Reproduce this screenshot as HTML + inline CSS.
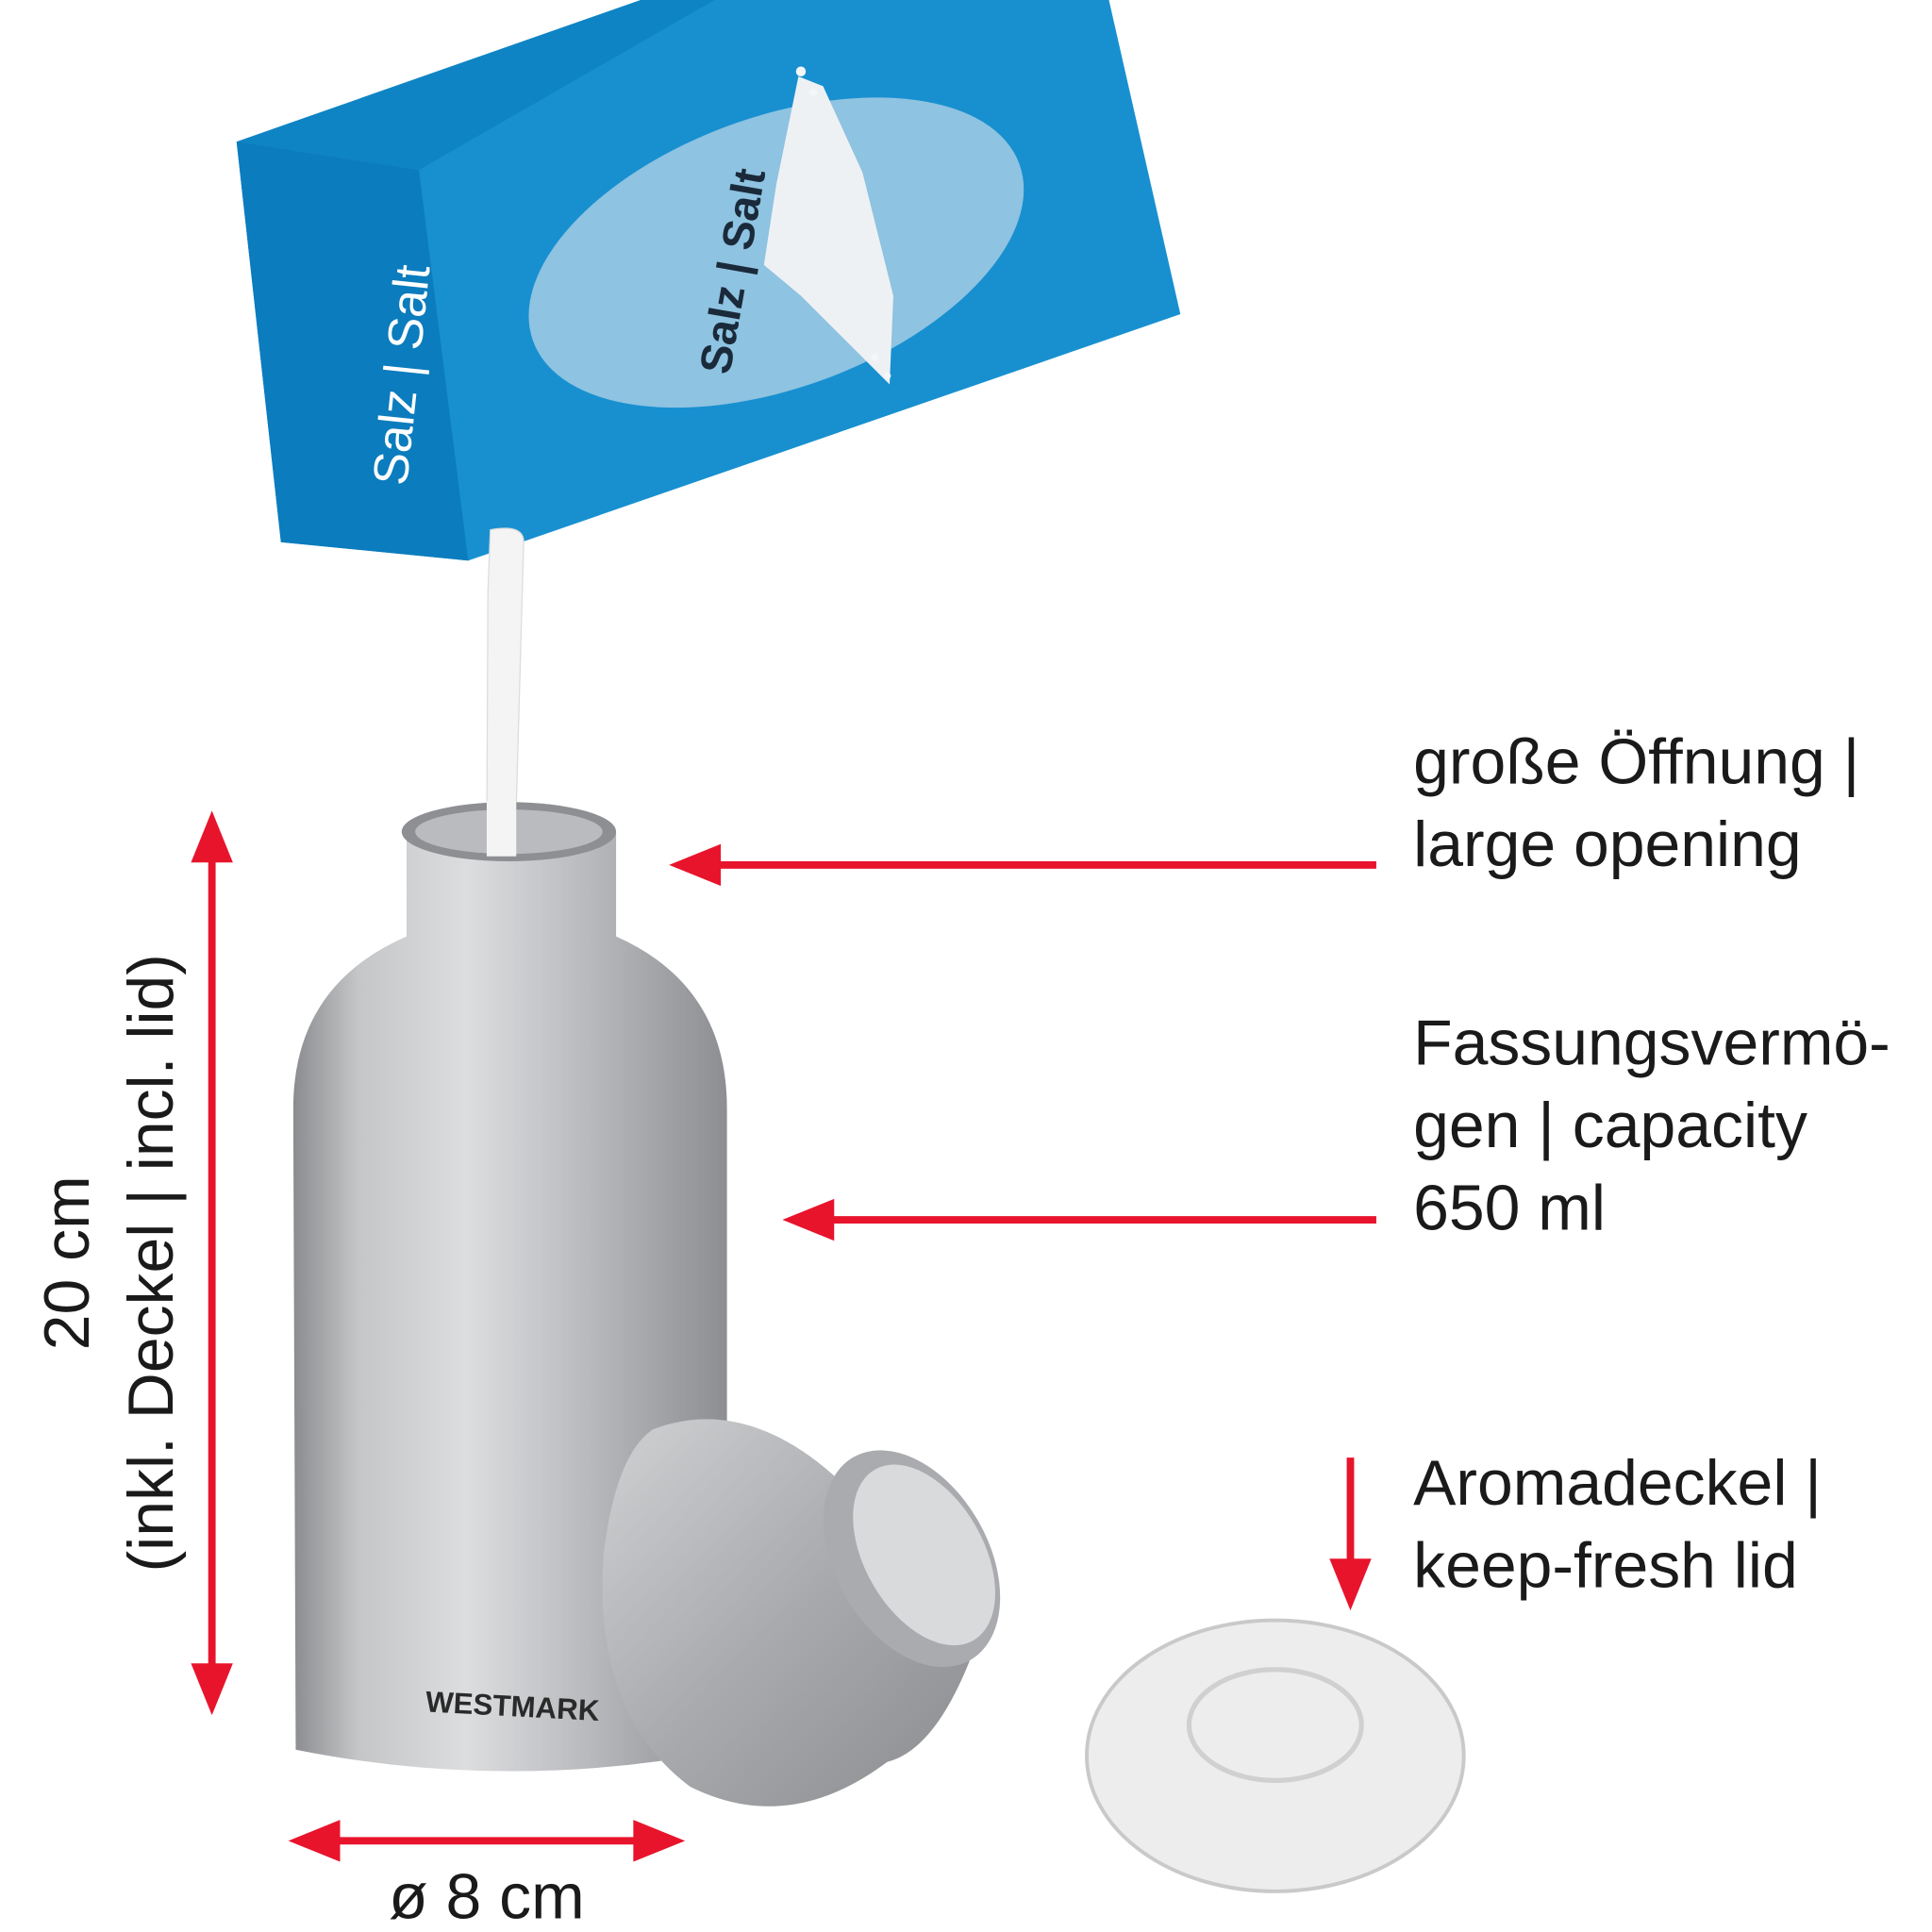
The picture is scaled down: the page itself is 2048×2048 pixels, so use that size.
<!DOCTYPE html>
<html><head><meta charset="utf-8"><style>
html,body{margin:0;padding:0;background:#fff;}
svg{display:block;}
text{font-family:"Liberation Sans","DejaVu Sans",sans-serif;}
</style></head><body>
<svg width="2048" height="2048" viewBox="0 0 1568 1568" xmlns="http://www.w3.org/2000/svg">
<defs>
<linearGradient id="metal" x1="0" x2="1" y1="0" y2="0">
<stop offset="0" stop-color="#8a8c8f"/><stop offset="0.15" stop-color="#c4c6c8"/><stop offset="0.4" stop-color="#dcdddf"/><stop offset="0.7" stop-color="#b5b7ba"/><stop offset="1" stop-color="#8c8e91"/>
</linearGradient>
<linearGradient id="lidg" x1="0" x2="1" y1="0" y2="1">
<stop offset="0" stop-color="#cfd1d3"/><stop offset="0.5" stop-color="#a8aaad"/><stop offset="1" stop-color="#8a8c8f"/>
</linearGradient>
</defs>
<!-- box -->
<polygon points="192,115 520,0 900,0 958,255 380,455 228,440" fill="#1890d0"/>
<polygon points="192,115 340,138 380,455 228,440" fill="#0b7cbd"/>
<polygon points="192,115 520,0 580,0 340,138" fill="#0f84c4"/>
<ellipse cx="630" cy="205" rx="210" ry="110" transform="rotate(-20 630 205)" fill="#8ec3e1"/>
<polygon points="648,62 668,70 700,140 725,240 722,312 700,290 650,240 620,215 630,150" fill="#eef1f4"/>
<g fill="#f4f6f8"><circle cx="650" cy="58" r="4"/><circle cx="660" cy="75" r="3"/><circle cx="720" cy="305" r="3"/><circle cx="710" cy="290" r="3"/></g>
<text x="0" y="0" transform="translate(330,395) rotate(-84)" fill="#fff" font-size="40">Salz | Salt</text>
<text x="0" y="0" transform="translate(592,305) rotate(-80)" fill="#1a2a3a" font-size="36" font-weight="bold">Salz | Salt</text>
<!-- stream -->
<path d="M398,430 Q425,425 425,440 L418,690 L395,690 L396,480 Z" fill="#f4f4f4" stroke="#ddd"/>
<!-- bottle -->
<path d="M330,675 L500,675 L500,760 Q590,800 590,900 L590,1420 Q415,1455 240,1420 L238,900 Q238,800 330,760 Z" fill="url(#metal)"/>
<ellipse cx="413" cy="675" rx="87" ry="24" fill="#8d8f92"/>
<ellipse cx="413" cy="675" rx="76" ry="18" fill="#b9bbbe"/>
<rect x="395" y="650" width="24" height="45" fill="#f4f4f4"/>
<text x="345" y="1392" font-size="24" font-weight="bold" fill="#2a2a2a" transform="rotate(3 400 1390)">WESTMARK</text>
<!-- lid -->
<path d="M530,1160 Q610,1130 690,1210 L790,1340 Q760,1420 720,1430 Q640,1490 560,1450 Q480,1390 490,1260 Q500,1180 530,1160 Z" fill="url(#lidg)"/>
<ellipse cx="740" cy="1265" rx="62" ry="95" transform="rotate(-30 740 1265)" fill="#a9abae"/>
<ellipse cx="750" cy="1262" rx="48" ry="80" transform="rotate(-30 750 1262)" fill="#d9dadc"/>
<!-- disc -->
<ellipse cx="1035" cy="1425" rx="153" ry="110" fill="#ededee" stroke="#c9c9c9" stroke-width="3"/>
<ellipse cx="1035" cy="1400" rx="70" ry="45" fill="none" stroke="#d0d0d0" stroke-width="4"/>
<!-- arrows -->
<g fill="#e8142c" stroke="#e8142c">
<line x1="172" y1="690" x2="172" y2="1360" stroke-width="6"/>
<polygon points="172,658 155,700 189,700" stroke="none"/>
<polygon points="172,1392 155,1350 189,1350" stroke="none"/>
<line x1="580" y1="702" x2="1117" y2="702" stroke-width="6"/>
<polygon points="543,702 585,685 585,719" stroke="none"/>
<line x1="670" y1="990" x2="1117" y2="990" stroke-width="6"/>
<polygon points="635,990 677,973 677,1007" stroke="none"/>
<line x1="1096" y1="1183" x2="1096" y2="1270" stroke-width="6"/>
<polygon points="1096,1307 1079,1265 1113,1265" stroke="none"/>
<line x1="270" y1="1494" x2="520" y2="1494" stroke-width="6"/>
<polygon points="234,1494 276,1477 276,1511" stroke="none"/>
<polygon points="556,1494 514,1477 514,1511" stroke="none"/>
</g>
<!-- labels -->
<g font-size="52" fill="#1a1a1a">
<text x="1147" y="636">große Öffnung |</text>
<text x="1147" y="703">large opening</text>
<text x="1147" y="864">Fassungsvermö-</text>
<text x="1147" y="931">gen | capacity</text>
<text x="1147" y="998">650 ml</text>
<text x="1147" y="1221">Aromadeckel |</text>
<text x="1147" y="1288">keep-fresh lid</text>
<text x="395" y="1557" text-anchor="middle">ø 8 cm</text>
<text transform="translate(72,1025) rotate(-90)" text-anchor="middle">20 cm</text>
<text transform="translate(140,1025) rotate(-90)" text-anchor="middle">(inkl. Deckel | incl. lid)</text>
</g>
</svg>
</body></html>
